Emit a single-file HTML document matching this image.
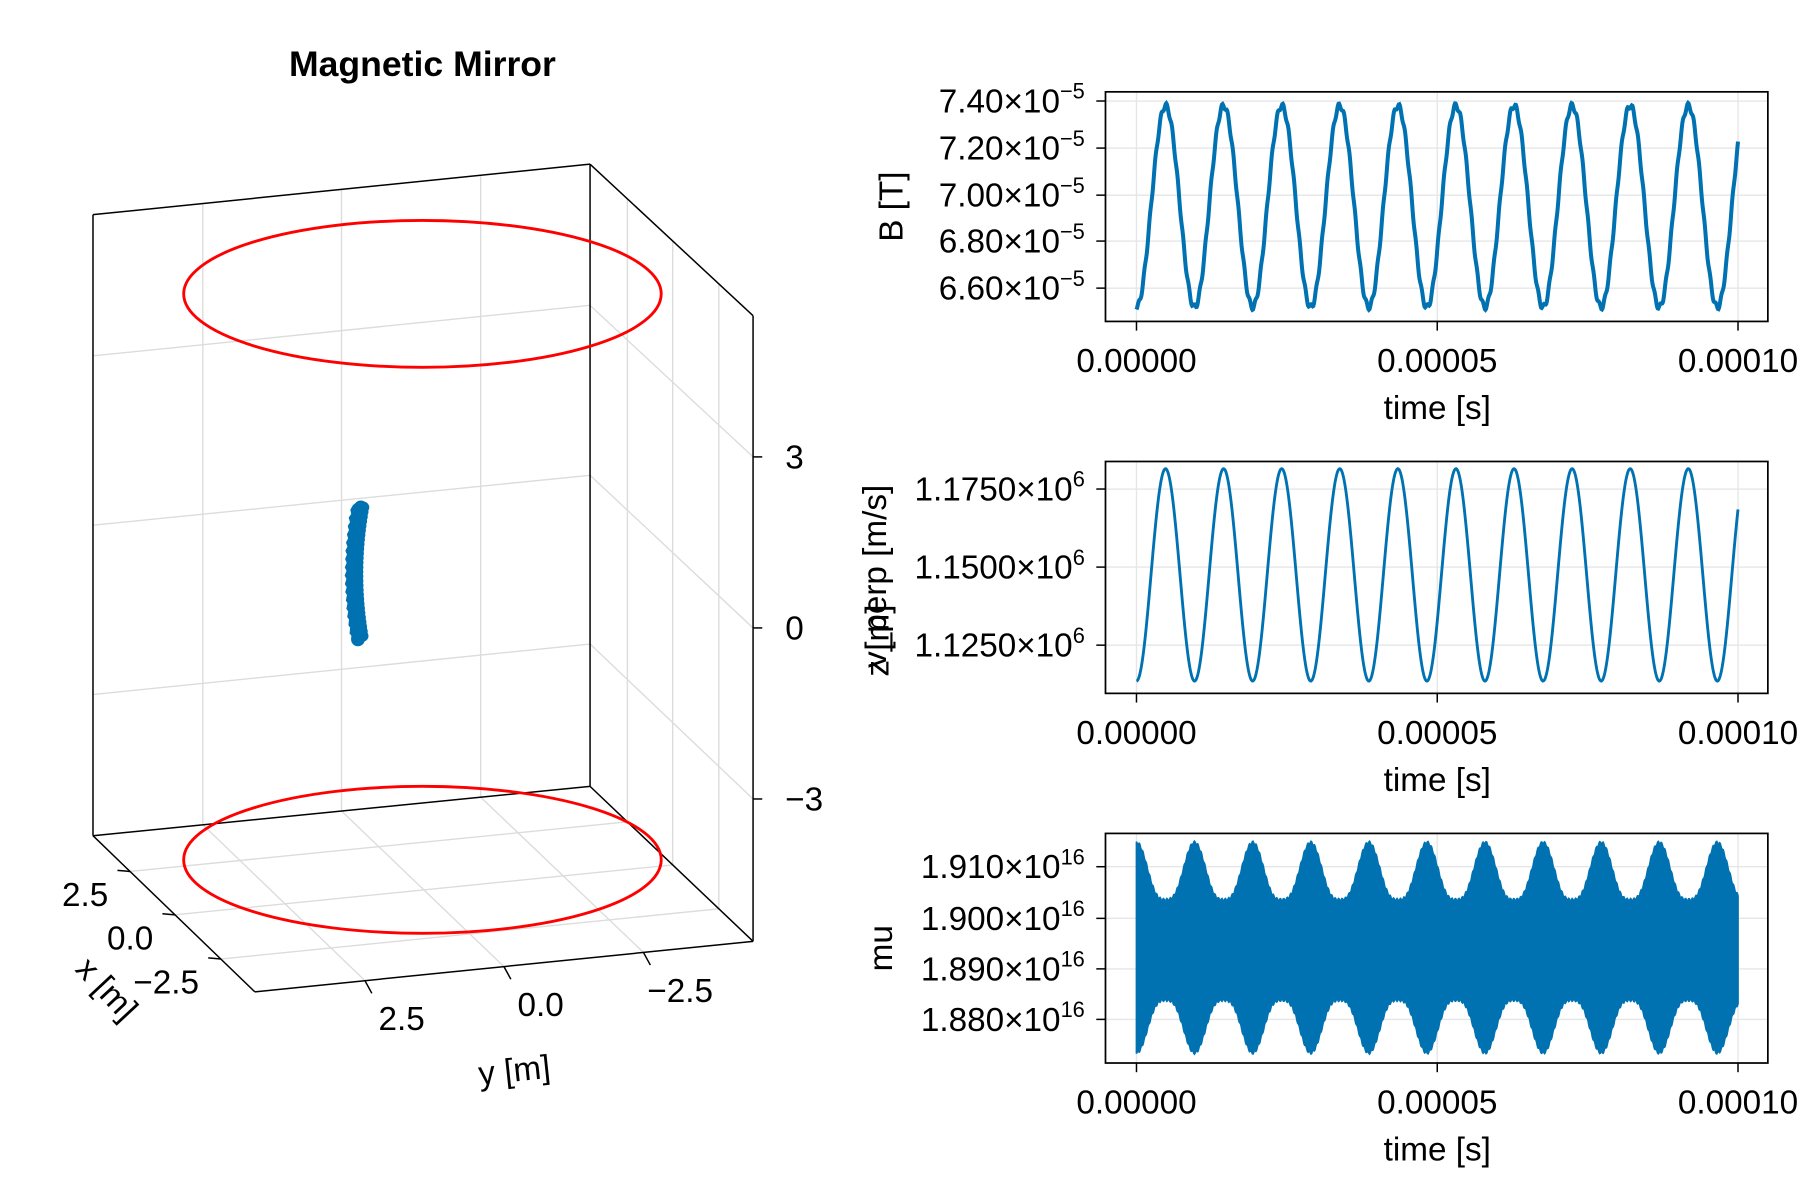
<!DOCTYPE html>
<html><head><meta charset="utf-8"><style>
html,body{margin:0;padding:0;background:#fff}
svg{display:block}
text{font-family:"Liberation Sans",Arial,sans-serif;fill:#000}
</style></head><body>
<svg id="s" width="1800" height="1200" viewBox="0 0 1568 1045.33" xmlns="http://www.w3.org/2000/svg">
<rect width="1568" height="1046" fill="#fff"/>
<text x="368" y="66" font-size="31" font-weight="bold" text-anchor="middle">Magnetic Mirror</text>
<g id="g3d" fill="none"></g>
<g id="gr"></g>
</svg>
<script>
const NS="http://www.w3.org/2000/svg";
function el(p,tag,attrs,txt){const e=document.createElementNS(NS,tag);for(const k in attrs)e.setAttribute(k,attrs[k]);if(txt!==undefined)e.textContent=txt;p.appendChild(e);return e;}
const g=document.getElementById('g3d');
const L=(a,b,c,w)=>el(g,'line',{x1:a[0],y1:a[1],x2:b[0],y2:b[1],stroke:c,'stroke-width':w});
const lerp=(a,b,t)=>[a[0]+(b[0]-a[0])*t,a[1]+(b[1]-a[1])*t];
const A=[81,728],B=[514,685],C=[656,820],D=[222,864],TA=[81,187],TB=[514,143],TC=[656,275];
const gc='#dcdcdc';
[0.221,0.5,0.78].forEach(s=>{L(lerp(TA,TB,s),lerp(A,B,s),gc,1.2);L(lerp(A,B,s),lerp(D,C,s),gc,1.2);});
[0.229,0.507,0.79].forEach(t=>{L(lerp(A,D,t),lerp(B,C,t),gc,1.2);L(lerp(B,C,t),lerp(TB,TC,t),gc,1.2);});
[[310,266,398],[457.5,414,547],[605,561,696]].forEach(z=>{L([81,z[0]],[514,z[1]],gc,1.2);L([514,z[1]],[656,z[2]],gc,1.2);});
[[TA,A],[TA,TB],[TB,B],[TB,TC],[TC,C],[A,B],[B,C],[A,D],[D,C]].forEach(p=>L(p[0],p[1],'#000',1.3));
const FS=29;
[[398,'3'],[547,'0'],[696,'−3']].forEach(z=>{L([656,z[0]],[664,z[0]],'#000',1.3);el(g,'text',{x:684,y:z[0]+10,'font-size':FS,fill:'#000'},z[1]);});
[[0.229,'2.5'],[0.507,'0.0'],[0.79,'−2.5']].forEach(t=>{const p=lerp(A,D,t[0]);L(p,[p[0]-11,p[1]-1],'#000',1.3);el(g,'text',{x:p[0]-19,y:p[1]+30,'font-size':FS,'text-anchor':'end',fill:'#000'},t[1]);});
[[0.221,'2.5'],[0.5,'0.0'],[0.78,'−2.5']].forEach(t=>{const p=lerp(D,C,t[0]);L(p,[p[0]+6,p[1]+11],'#000',1.3);el(g,'text',{x:p[0]+32,y:p[1]+43,'font-size':FS,'text-anchor':'middle',fill:'#000'},t[1]);});
el(g,'text',{x:0,y:0,'font-size':FS,'text-anchor':'middle',fill:'#000',transform:'translate(86,868) rotate(47)'},'x [m]');
el(g,'text',{x:0,y:0,'font-size':FS,'text-anchor':'middle',fill:'#000',transform:'translate(449,942) rotate(-6)'},'y [m]');
el(g,'text',{x:0,y:0,'font-size':FS,'text-anchor':'middle',fill:'#000',transform:'translate(774,558) rotate(-90)'},'z [m]');
el(g,'ellipse',{cx:368,cy:256,rx:208,ry:64,stroke:'#ff0000','stroke-width':2.5});
el(g,'ellipse',{cx:368,cy:749,rx:208,ry:64,stroke:'#ff0000','stroke-width':2.5});
let d='';for(let y=442;y<=557;y+=1){const x=308+5*Math.pow((y-500)/57,2)+1.2*Math.sin(y*0.9);d+=(d?'L':'M')+x.toFixed(1)+' '+y;}
el(g,'path',{d:d,stroke:'#0072b2','stroke-width':12,'stroke-linecap':'round'});
for(let y=442;y<=557;y+=4){const x=308+5*Math.pow((y-500)/57,2);el(g,'circle',{cx:x+3.5,cy:y,r:5,fill:'#0072b2'});}

const gr=document.getElementById('gr');
const X0=963,X1=1540,T0=990,T1=1514,P=50.6;
function panel(top,bot,yt,label,ly){
  [T0,(T0+T1)/2,T1].forEach(x=>el(gr,'line',{x1:x,y1:top,x2:x,y2:bot,stroke:'#e6e6e6','stroke-width':1.2}));
  yt.forEach(t=>el(gr,'line',{x1:X0,y1:t[0],x2:X1,y2:t[0],stroke:'#e6e6e6','stroke-width':1.2}));
  const xl=['0.00000','0.00005','0.00010'];
  [T0,(T0+T1)/2,T1].forEach((x,i)=>{el(gr,'line',{x1:x,y1:bot,x2:x,y2:bot+8,stroke:'#000','stroke-width':1.3});el(gr,'text',{x:x,y:bot+44,'font-size':FS,'text-anchor':'middle'},xl[i]);});
  el(gr,'text',{x:1252,y:bot+85,'font-size':FS,'text-anchor':'middle'},'time [s]');
  yt.forEach(t=>{el(gr,'line',{x1:X0-8,y1:t[0],x2:X0,y2:t[0],stroke:'#000','stroke-width':1.3});
    const tx=el(gr,'text',{x:945,y:t[0]+10,'font-size':FS,'text-anchor':'end'});
    const a=document.createElementNS(NS,'tspan');a.textContent=t[1]+'×10';tx.appendChild(a);
    const b=document.createElementNS(NS,'tspan');b.setAttribute('font-size','19');b.setAttribute('dy','-12');b.textContent=t[2];tx.appendChild(b);});
  el(gr,'text',{x:0,y:0,'font-size':FS,'text-anchor':'middle',transform:'translate('+ly[0]+','+ly[1]+') rotate(-90)'},label);
}
function frame(top,bot){el(gr,'rect',{x:X0,y:top,width:X1-X0,height:bot-top,fill:'none',stroke:'#000','stroke-width':1.5});}
panel(80,280,[[88,'7.40','−5'],[129,'7.20','−5'],[170,'7.00','−5'],[210,'6.80','−5'],[251,'6.60','−5']],'B [T]',[786,180]);
d='';for(let x=T0;x<=T1;x+=0.5){const th=2*Math.PI*(x-T0)/P;const B=6.95-0.43*Math.cos(th)+0.012*Math.sin(x*1.3);const y=88+(7.40-B)/0.2*40.8;d+=(d?'L':'M')+x.toFixed(1)+' '+y.toFixed(1);}
el(gr,'path',{d:d,fill:'none',stroke:'#0072b2','stroke-width':3.5});
frame(80,280);
panel(402,604,[[426,'1.1750','6'],[494,'1.1500','6'],[562,'1.1250','6']],'v_perp [m/s]',[772,502]);
d='';for(let x=T0;x<=T1;x+=0.5){const th=2*Math.PI*(x-T0)/P;const V=1.1475-0.034*Math.cos(th);const y=426+(1.175-V)/0.025*68;d+=(d?'L':'M')+x.toFixed(1)+' '+y.toFixed(1);}
el(gr,'path',{d:d,fill:'none',stroke:'#0072b2','stroke-width':2.5});
frame(402,604);
panel(726,926,[[755,'1.910','16'],[800,'1.900','16'],[844,'1.890','16'],[888,'1.880','16']],'mu',[777,826]);
let up=[],lo=[];for(let x=T0;x<=T1;x+=0.5){const th=2*Math.PI*(x-T0)/P;const gg=Math.pow((1+Math.cos(th))/2,1.6);const w=1.2*Math.sin(x*2.1);up.push(x.toFixed(1)+','+(784-50*gg+w).toFixed(1));lo.push(x.toFixed(1)+','+(871+46*gg-w).toFixed(1));}
el(gr,'polygon',{points:up.concat(lo.reverse()).join(' '),fill:'#0072b2',stroke:'#0072b2','stroke-width':1.5});
frame(726,926);
</script>
</body></html>
